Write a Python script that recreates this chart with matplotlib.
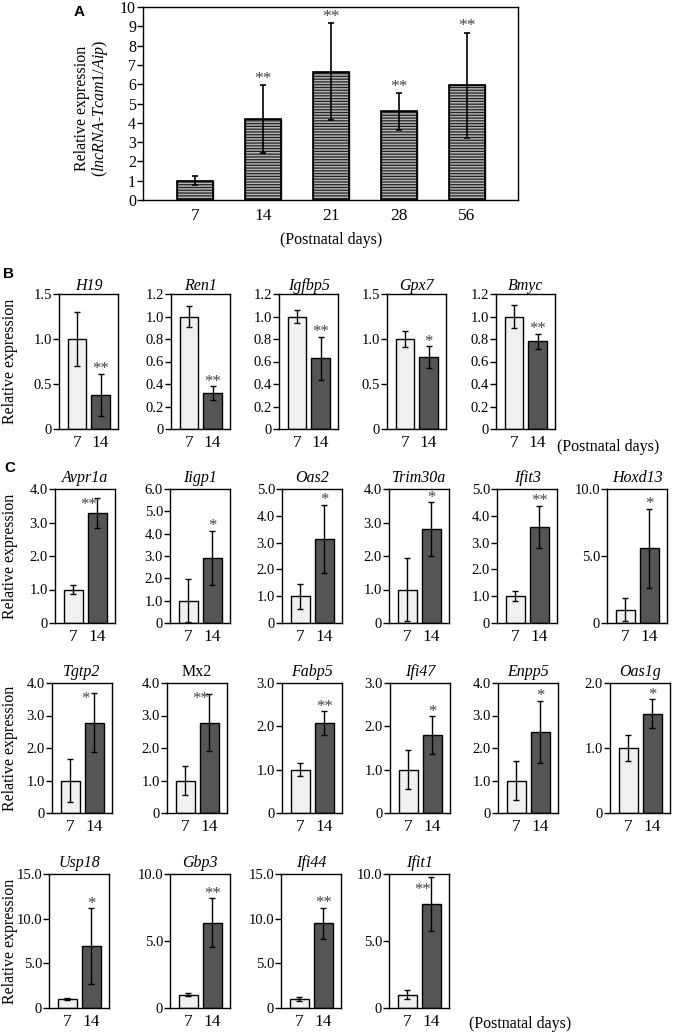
import matplotlib
matplotlib.use('Agg')
import matplotlib.pyplot as plt

# ---- fonts (Times-like serif everywhere, Arial-like bold for panel letters)
plt.rcParams['font.family'] = 'Liberation Serif'
plt.rcParams['mathtext.fontset'] = 'custom'
plt.rcParams['mathtext.rm'] = 'Liberation Serif'
plt.rcParams['mathtext.it'] = 'Liberation Serif:italic'
plt.rcParams['hatch.linewidth'] = 0.9
plt.rcParams['axes.linewidth'] = 1.0

# ---- panel A data
days_a = ['7', '14', '21', '28', '56']
mean_a = [1.0, 4.2, 6.65, 4.6, 5.95]
err_a = [0.22, 1.75, 2.5, 0.95, 2.72]
sig_a = ['', '**', '**', '**', '**']

# ---- panel B data (day 7 vs day 14)
genes_b = ['H19', 'Ren1', 'Igfbp5', 'Gpx7', 'Bmyc']
d7_b = [1.0, 1.0, 1.0, 1.0, 1.0]
d7err_b = [0.3, 0.09, 0.06, 0.09, 0.1]
d14_b = [0.38, 0.32, 0.63, 0.80, 0.78]
d14err_b = [0.23, 0.06, 0.19, 0.12, 0.065]
sig_b = ['**', '**', '**', '*', '**']
ymax_b = [1.5, 1.2, 1.2, 1.5, 1.2]
ystep_b = [0.5, 0.2, 0.2, 0.5, 0.2]

# ---- panel C data, row 1
genes_c1 = ['Avpr1a', 'Iigp1', 'Oas2', 'Trim30a', 'Ifit3', 'Hoxd13']
d7_c1 = [1.0, 1.0, 1.0, 1.0, 1.0, 1.0]
d7err_c1 = [0.13, 0.97, 0.47, 0.95, 0.18, 0.85]
d14_c1 = [3.28, 2.92, 3.14, 2.8, 3.58, 5.56]
d14err_c1 = [0.45, 1.2, 1.28, 0.8, 0.79, 2.95]
sig_c1 = ['**', '*', '*', '*', '**', '*']
ymax_c1 = [4.0, 6.0, 5.0, 4.0, 5.0, 10.0]
ystep_c1 = [1.0, 1.0, 1.0, 1.0, 1.0, 5.0]

# ---- panel C data, row 2
genes_c2 = ['Tgtp2', 'Mx2', 'Fabp5', 'Ifi47', 'Enpp5', 'Oas1g']
d7_c2 = [1.0, 1.0, 1.0, 1.0, 1.0, 1.0]
d7err_c2 = [0.65, 0.45, 0.15, 0.45, 0.6, 0.2]
d14_c2 = [2.78, 2.78, 2.07, 1.8, 2.5, 1.53]
d14err_c2 = [0.9, 0.88, 0.28, 0.43, 0.95, 0.22]
sig_c2 = ['*', '**', '**', '*', '*', '*']
ymax_c2 = [4.0, 4.0, 3.0, 3.0, 4.0, 2.0]
ystep_c2 = [1.0, 1.0, 1.0, 1.0, 1.0, 1.0]

# ---- panel C data, row 3
genes_c3 = ['Usp18', 'Gbp3', 'Ifi44', 'Ifit1']
d7_c3 = [1.0, 1.0, 1.0, 1.0]
d7err_c3 = [0.15, 0.12, 0.25, 0.35]
d14_c3 = [6.9, 6.38, 9.5, 7.75]
d14err_c3 = [4.25, 1.8, 1.75, 2.0]
sig_c3 = ['*', '**', '**', '**']
ymax_c3 = [15.0, 10.0, 15.0, 10.0]
ystep_c3 = [5.0, 5.0, 5.0, 5.0]

groups = ['7', '14']

W, H = 673, 1035
fig = plt.figure(figsize=(W / 100, H / 100), dpi=100)


def box(left, top, width, height):
    # pixel box -> figure fraction
    return [left / W, 1 - (top + height) / H, width / W, height / H]


def fmt(v):
    return '0' if v == 0 else '%.1f' % v


def star(ax, x, top, sig, ymax, size=12):
    if not sig:
        return
    if top > 0.91 * ymax:
        ax.text(x - 0.35, 0.85 * ymax, sig, ha='center', va='baseline',
                fontsize=size, color='#444444')
    else:
        ax.text(x, top + 0.005 * ymax, sig, ha='center', va='baseline',
                fontsize=size, color='#444444')


def small_panel(pbox, gene, m7, e7, m14, e14, sig, ymax, step, pad):
    ax = fig.add_axes(box(*pbox))
    ax.bar([0, 1], [m7, m14], yerr=[e7, e14], width=0.78,
           color=['#f0f0f0', '#555555'], edgecolor='black', linewidth=1.0,
           error_kw=dict(elinewidth=1.0, capsize=2.5, capthick=1.0, ecolor='black'))
    ax.set_xlim(-0.75, 1.73)
    ax.set_ylim(0, ymax)
    ticks = [i * step for i in range(int(round(ymax / step)) + 1)]
    ax.set_yticks(ticks)
    ax.set_yticklabels([fmt(t) for t in ticks])
    ax.set_xticks([0, 1])
    ax.set_xticklabels(groups)
    ax.tick_params(axis='x', length=0, labelsize=12.5, pad=4)
    ax.tick_params(axis='y', length=4, width=1.0, labelsize=10.5, pad=1)
    style = 'normal' if gene == 'Mx2' else 'italic'
    ax.set_title(gene, fontsize=11.5, fontstyle=style, pad=pad)
    star(ax, 1, m14 + e14, sig, ymax)
    return ax


# ---------------- panel A
axa = fig.add_axes(box(143, 7, 375, 193))
xa = list(range(len(days_a)))
axa.bar(xa, mean_a, width=0.53, color='#b4b4b4', edgecolor='#222222',
        hatch='------', linewidth=1.0)
axa.bar(xa, mean_a, width=0.53, color='none', edgecolor='black', linewidth=1.2)
axa.errorbar(xa, mean_a, yerr=err_a, fmt='none', ecolor='black',
             elinewidth=1.2, capsize=2.5, capthick=1.2)
for i in xa:
    if sig_a[i]:
        axa.text(i, mean_a[i] + err_a[i] + 0.12, sig_a[i], ha='center',
                 va='baseline', fontsize=12.5, color='#444444')
axa.set_xlim(-0.76, 4.75)
axa.set_ylim(0, 10)
axa.set_yticks(range(0, 11))
axa.set_xticks(xa)
axa.set_xticklabels(days_a)
axa.tick_params(axis='x', length=0, labelsize=12.5, pad=6)
axa.tick_params(axis='y', length=4, width=1.0, labelsize=11.5, pad=1)
fig.text(82 / W, 1 - 108 / H, 'Relative expression', rotation=90,
         ha='center', va='center', fontsize=11.5)
fig.text(100 / W, 1 - 108 / H,
         '(' + r'$\mathit{lncRNA}$' + '-' + r'$\mathit{Tcam1/Aip}$' + ')',
         rotation=90, ha='center', va='center', fontsize=11.5)
fig.text(331 / W, 1 - 240 / H, '(Postnatal days)', ha='center', va='center',
         fontsize=11.5)
fig.text(79 / W, 1 - 12 / H, 'A', family='Liberation Sans', weight='bold',
         ha='center', va='center', fontsize=11)

# ---------------- panel B
lefts_b = [59, 171, 279, 387, 496]
for i, g in enumerate(genes_b):
    small_panel((lefts_b[i], 294, 59, 135), g, d7_b[i], d7err_b[i], d14_b[i],
                d14err_b[i], sig_b[i], ymax_b[i], ystep_b[i], 2)
fig.text(10 / W, 1 - 361 / H, 'Relative expression', rotation=90,
         ha='center', va='center', fontsize=11.5)
fig.text(608 / W, 1 - 447 / H, '(Postnatal days)', ha='center', va='center',
         fontsize=11.5)
fig.text(8 / W, 1 - 274 / H, 'B', family='Liberation Sans', weight='bold',
         ha='center', va='center', fontsize=11)

# ---------------- panel C
rows_c = [
    (genes_c1, d7_c1, d7err_c1, d14_c1, d14err_c1, sig_c1, ymax_c1, ystep_c1,
     [55, 170, 282, 389, 497, 607], 489, 134),
    (genes_c2, d7_c2, d7err_c2, d14_c2, d14err_c2, sig_c2, ymax_c2, ystep_c2,
     [52, 167, 282, 390, 498, 610], 683, 130),
    (genes_c3, d7_c3, d7err_c3, d14_c3, d14err_c3, sig_c3, ymax_c3, ystep_c3,
     [49, 170, 281, 389], 874, 134),
]
for genes, a7, e7, a14, e14, sg, ym, st, lefts, top, hgt in rows_c:
    for i, g in enumerate(genes):
        small_panel((lefts[i], top, 60, hgt), g, a7[i], e7[i], a14[i], e14[i],
                    sg[i], ym[i], st[i], 5)
    fig.text(10 / W, 1 - (top + hgt / 2) / H, 'Relative expression', rotation=90,
             ha='center', va='center', fontsize=11.5)
fig.text(520 / W, 1 - 1024 / H, '(Postnatal days)', ha='center', va='center',
         fontsize=11.5)
fig.text(10 / W, 1 - 468 / H, 'C', family='Liberation Sans', weight='bold',
         ha='center', va='center', fontsize=11)

fig.savefig('out.png', dpi=100)
